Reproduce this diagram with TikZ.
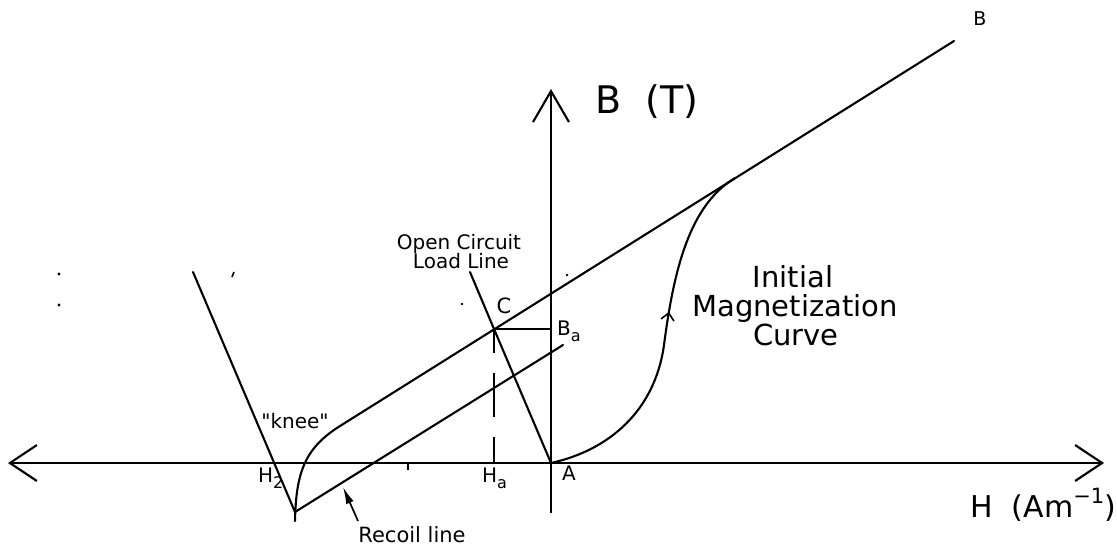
\documentclass[tikz,border=0pt]{standalone}
\usepackage{fontspec}
\setmainfont{DejaVu Sans}
\newfontfamily\plainquotes{DejaVu Sans}
\usetikzlibrary{arrows.meta,decorations.markings}
\newcommand{\mysub}[1]{\raisebox{-0.3em}{\scalebox{0.8}{#1}}}
\newcommand{\mysup}[1]{\raisebox{0.45em}{\scalebox{0.7}{#1}}}
\tikzset{
  curve/.style={line width=2.1pt, line cap=round, line join=round},
  axis/.style={line width=2.1pt, {Straight Barb[length=27pt,width=36pt,line width=2.1pt]}-{Straight Barb[length=27pt,width=36pt,line width=2.1pt]}},
  lbl/.style={inner sep=0pt, anchor=base, font=\fontsize{20}{22}\selectfont},
  speck/.style={fill=black, draw=none},
}
\begin{document}
\begin{tikzpicture}[x=1pt,y=-1pt]
\useasboundingbox (0,0) rectangle (1117,552);
% key points
\coordinate (Hl) at (8,463);
\coordinate (Hr) at (1104,463);
\coordinate (Bb) at (551,513);
\coordinate (Bt) at (551,89);
\coordinate (A) at (551,463);
\coordinate (C) at (494,329);
\coordinate (Btop) at (954,41);
\coordinate (kneeS) at (340,426);
\coordinate (kneeB) at (295,512);
\coordinate (kneeE) at (295,521);
\coordinate (recE) at (563,345);
\coordinate (slT) at (193,272);
\coordinate (ldT) at (470,272);
\coordinate (Bo) at (551,329);
\coordinate (Ho) at (494,463);
\coordinate (tangent) at (735,178);
% axes
\draw[axis] (Hl) -- (Hr);
\draw[line width=2.1pt, -{Straight Barb[length=31pt,width=36pt,line width=2.1pt]}] (Bb) -- (Bt);
\draw[line width=1.6pt] (408,463) -- (408,470);
% demagnetization line with knee
\draw[curve] (Btop) -- (kneeS) .. controls (305,448) and (296,472) .. (kneeE);
% recoil line
\draw[curve] (kneeB) -- (recE);
% left slanted line
\draw[curve] (slT) -- (kneeB);
% open circuit load line
\draw[curve] (ldT) -- (C) -- (A);
% operating point projections
\draw[line width=1.8pt] (C) -- (Bo);
\draw[line width=1.8pt] (C) -- (494,353) (494,373) -- (494,417) (494,437) -- (Ho);
% initial magnetization curve
\draw[curve, decoration={markings, mark=at position 0.575 with {\arrow{Straight Barb[length=7pt,width=13pt,line width=1.6pt]}}}, postaction={decorate}]
  (A) .. controls (610,450) and (655,410) .. (664,345)
      .. controls (674,268) and (690,205) .. (tangent);
% recoil label arrow
\coordinate (rtail) at (358,521);
\coordinate (rtip) at (343,487);
\draw[line width=1.7pt, -{Latex[length=17pt,width=8pt]}] (rtail) -- (rtip);
% labels
\node[lbl, font=\fontsize{38}{40}\selectfont, anchor=base west] (BT) at (595,113) {B\ \ (T)};
\node[lbl, font=\fontsize{30}{32}\selectfont, anchor=base west] (HA) at (970,517) {H\ \ (Am\mysup{\char"2212 1})};
\node[lbl, font=\fontsize{19}{20}\selectfont] (Blab) at (980,25) {B};
\node[lbl] (oc1) at (459,249) {Open Circuit};
\node[lbl] (oc2) at (461,268) {Load Line};
\node[lbl, font=\fontsize{21}{22}\selectfont] (Clab) at (504,313) {C};
\node[lbl, anchor=base west] (Balab) at (557,335) {B\mysub{a}};
\node[lbl, anchor=base west] (Halab) at (482,482) {H\mysub{a}};
\node[lbl, anchor=base west] (Alab) at (562,480) {A};
\node[lbl, anchor=base west] (H2lab) at (258,482) {H\mysub{2}};
\node[lbl, font=\plainquotes\fontsize{20}{22}\selectfont] (knee) at (295,428) {"knee"};
\node[lbl, font=\fontsize{21}{22}\selectfont] (rec) at (412,542) {Recoil line};
\node[lbl, font=\fontsize{29}{31}\selectfont] (im1) at (793,287) {Initial};
\node[lbl, font=\fontsize{29}{31}\selectfont] (im2) at (795,316) {Magnetization};
\node[lbl, font=\fontsize{29}{31}\selectfont] (im3) at (796,345) {Curve};
% stray specks
\fill[speck] (59,274) circle (1.6pt);
\fill[speck] (59,305) circle (1.6pt);
\draw[line width=1.6pt] (234,272) -- (232,277);
\fill[speck] (462,304) circle (1.4pt);
\fill[speck] (567,275) circle (1.4pt);
\end{tikzpicture}
\end{document}
